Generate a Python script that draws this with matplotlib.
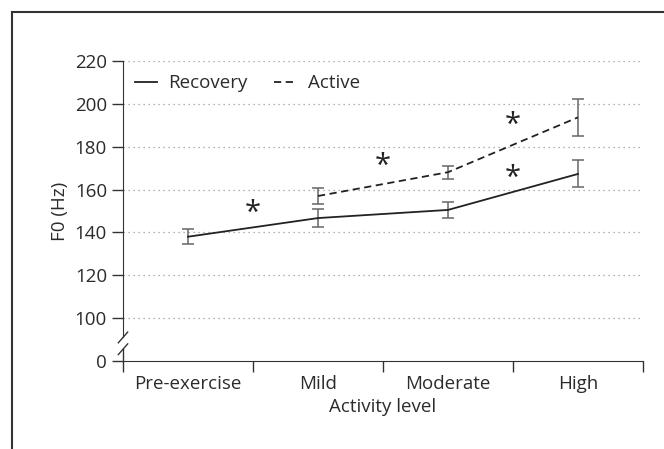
import matplotlib
matplotlib.use('Agg')
import matplotlib.pyplot as plt
from matplotlib.lines import Line2D

plt.rcParams['font.family'] = ['Open Sans', 'DejaVu Sans']

categories = ['Pre-exercise', 'Mild', 'Moderate', 'High']
recovery = [138.0, 146.7, 150.5, 167.3]
recovery_err = [3.6, 4.2, 3.6, 6.3]
active_x = [1, 2, 3]
active = [157.0, 168.1, 193.7]
active_err = [3.6, 3.0, 8.8]
# significance stars: (x position between groups, y)
star_x = [0.5, 1.5, 2.5, 2.5]
star_y = [149, 171, 190, 165]
yticks = [80, 100, 120, 140, 160, 180, 200, 220]
ytick_labels = ['0', '100', '120', '140', '160', '180', '200', '220']

txt = '#2b2b2b'
fs = 13.5
fig = plt.figure(figsize=(6.64, 4.49), dpi=100)
ax = fig.add_axes([123/664, 1-361/449, 520/664, 300/449])

x = list(range(len(categories)))
ax.errorbar(x, recovery, yerr=recovery_err, color='#222222', lw=1.3,
            ecolor='#666666', elinewidth=1.1, capsize=4, capthick=1.1, zorder=3)
ax.errorbar(active_x, active, yerr=active_err, color='#222222', lw=1.3,
            ls=(0, (4, 2.5)), ecolor='#666666', elinewidth=1.1, capsize=4,
            capthick=1.1, zorder=3)

for sx, sy in zip(star_x, star_y):
    ax.text(sx, sy, '*', ha='center', va='center', fontsize=21,
            color='#222222')

ax.set_xlim(-0.5, 3.5)
ax.set_ylim(80, 220)
for t in yticks[1:]:
    ax.axhline(t, color='#999999', lw=0.9, ls=(0, (1, 3)), zorder=1)

ax.set_yticks(yticks)
ax.set_yticklabels(ytick_labels)
ax.set_xticks([-0.5, 0.5, 1.5, 2.5, 3.5])
ax.set_xticklabels([])
ax.set_xticks(x, minor=True)
ax.set_xticklabels(categories, minor=True)
ax.tick_params(axis='x', which='minor', length=0, pad=10)
ax.tick_params(axis='both', which='major', length=8, width=1, color='#333333',
               labelsize=fs, labelcolor=txt)
ax.tick_params(axis='x', which='minor', labelsize=fs, labelcolor=txt)

for s in ['top', 'right']:
    ax.spines[s].set_visible(False)
ax.spines['bottom'].set_color('#333333')
ax.spines['left'].set_color('#333333')
ax.spines['left'].set_bounds(91, 220)
tr = ax.get_yaxis_transform()
ax.plot([0, 0], [80, 85.5], color='#333333', lw=1, transform=tr, clip_on=False)
for yy in [85.5, 91]:
    ax.plot([-0.009, 0.009], [yy - 2.5, yy + 2.5], color='#333333', lw=1,
            transform=tr, clip_on=False)

ax.set_xlabel('Activity level', fontsize=fs, color=txt, labelpad=4)
ax.set_ylabel('F0 (Hz)', fontsize=fs, color=txt, labelpad=4)

handles = [Line2D([], [], color='#222222', lw=1.3),
           Line2D([], [], color='#222222', lw=1.3, ls=(0, (4, 2.5)))]
ax.legend(handles, ['Recovery', 'Active'], loc='upper left',
          bbox_to_anchor=(-0.01, 1.012), ncol=2, frameon=False, fontsize=fs,
          handlelength=1.2, handletextpad=0.6, columnspacing=1.4,
          labelcolor=txt)

# outer frame (left and top edges)
fig.add_artist(Line2D([11.5/664, 11.5/664], [0, 1-12/449], color='#333333', lw=1.5))
fig.add_artist(Line2D([11.5/664, 1], [1-12/449, 1-12/449], color='#333333', lw=1.5))

fig.savefig('out.png', dpi=100)
